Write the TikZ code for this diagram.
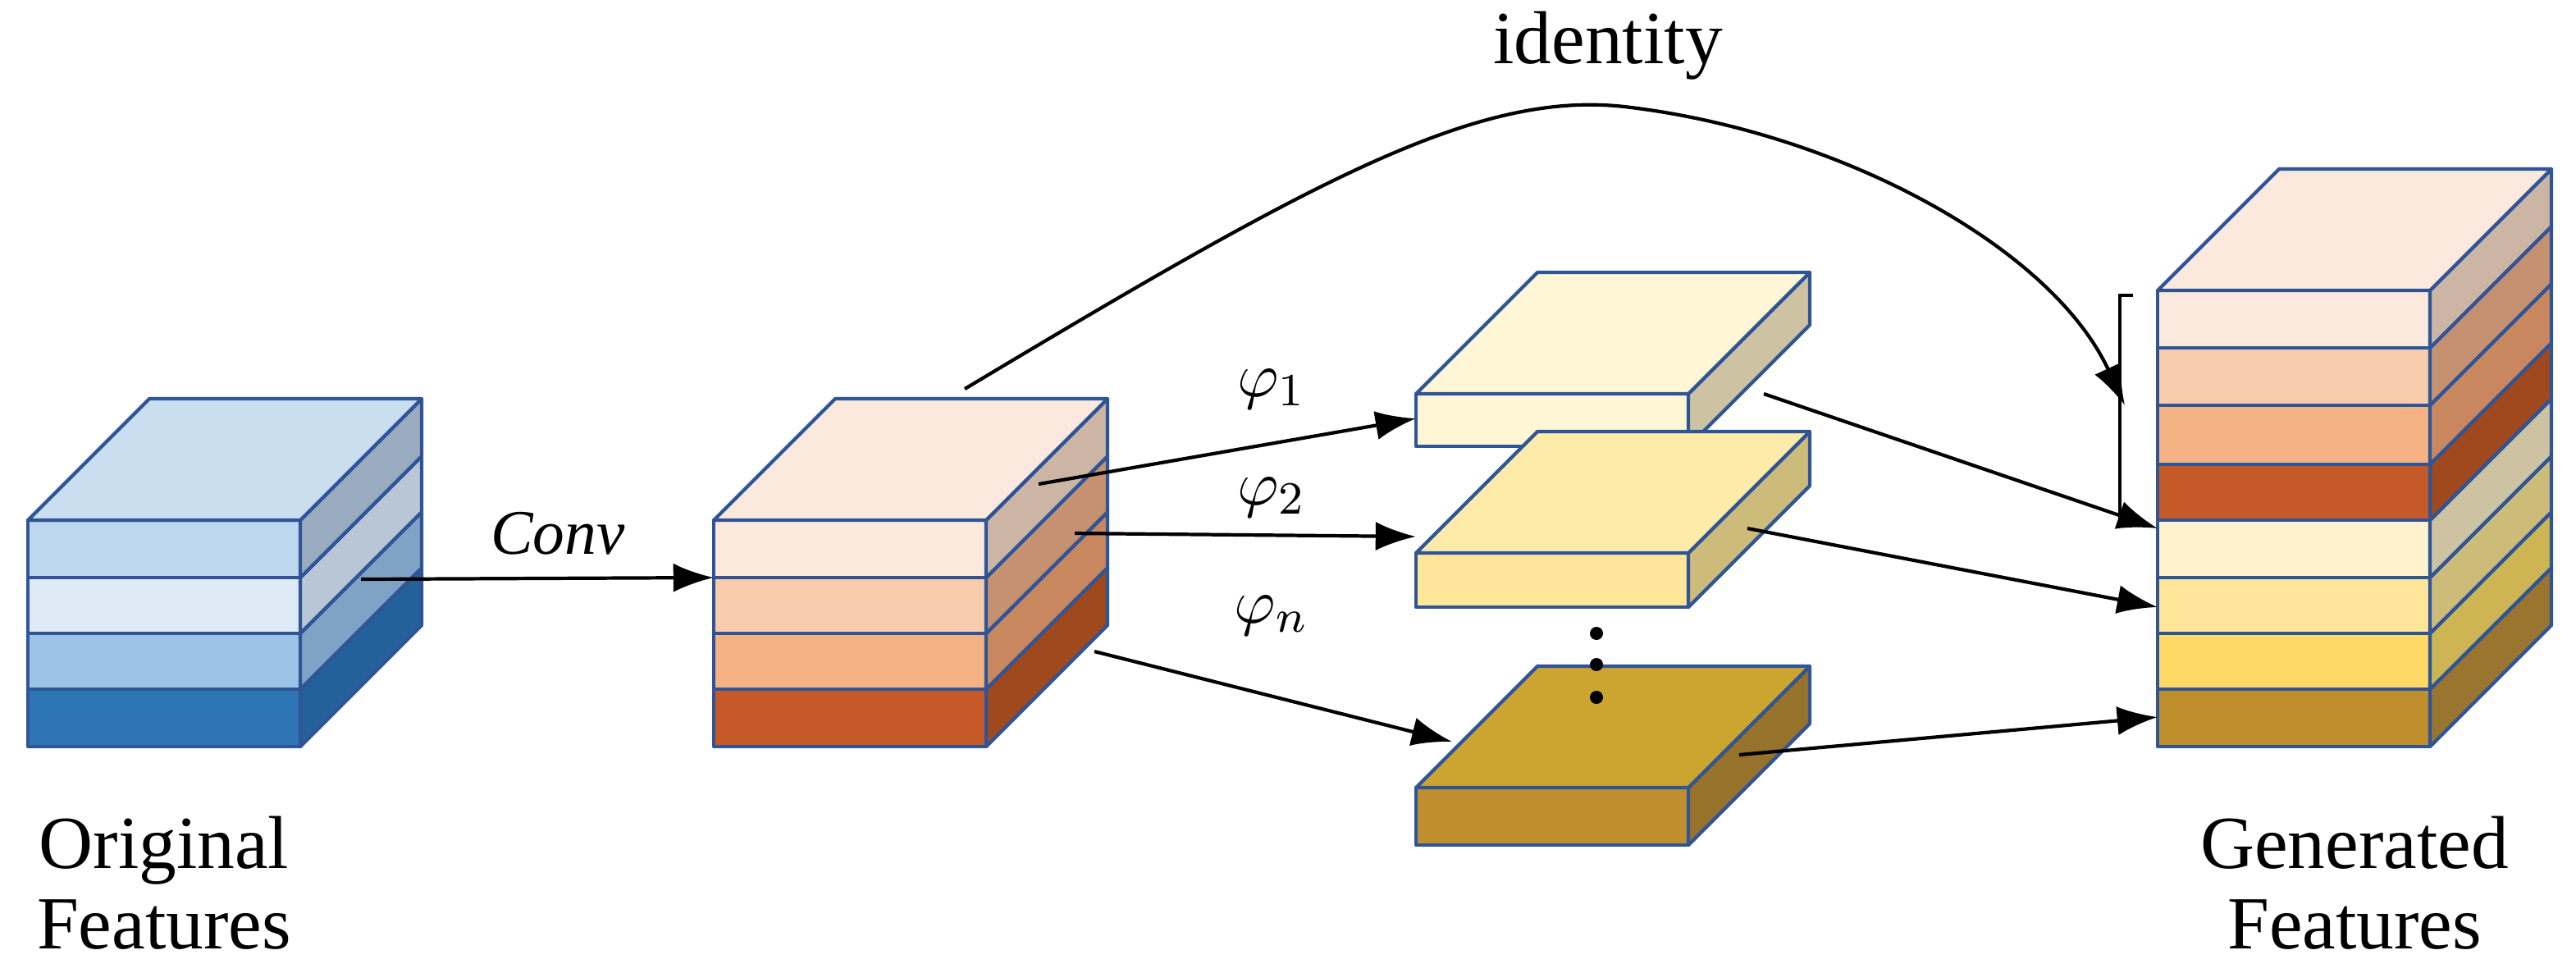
\documentclass[tikz,border=0pt]{standalone}
\usepackage{fontspec}
\setmainfont{Liberation Serif}
\usepackage{amsmath}
\usetikzlibrary{arrows.meta}
\definecolor{edge}{HTML}{2F5597}
\tikzset{
    face/.style={draw=edge,line width=0.6pt,line join=round},
    link/.style={-{Latex[length=7pt,width=5pt]},line width=0.6pt},
    caption/.style={font=\fontsize{13}{14}\selectfont,align=center,inner sep=1pt},
    mapname/.style={font=\fontsize{11}{13}\selectfont},
}
% one layer: x, y top, y bottom, front colour, side colour (hex)
\newcommand{\stacklayer}[5]{%
  \definecolor{frontc}{HTML}{#4}\definecolor{sidec}{HTML}{#5}%
  \fill[frontc] (#1,#2) rectangle (#1+166,#3);
  \draw[face,fill=sidec] (#1+166,#2) -- (#1+240,#2-74) -- (#1+240,#3-74) -- (#1+166,#3) -- cycle;
  \draw[face] (#1,#2) rectangle (#1+166,#3);
}
% top face: x, y top, colour (hex)
\newcommand{\stacktop}[3]{%
  \definecolor{topc}{HTML}{#3}%
  \draw[face,fill=topc] (#1,#2) -- (#1+74,#2-74) -- (#1+240,#2-74) -- (#1+166,#2) -- cycle;
}
\begin{document}
\begin{tikzpicture}[x=0.01cm,y=-0.01cm]
\useasboundingbox (0,0) rectangle (1570,587);
% original features
\stacklayer{17}{420}{455}{2E75B6}{24609A}
\stacklayer{17}{386}{420}{9DC3E6}{7FA3C4}
\stacklayer{17}{352}{386}{DEEBF7}{B8C6D6}
\stacklayer{17}{317}{352}{BDD7EE}{9AABBF}
\stacktop{17}{317}{C9DFF0}
% convolved features
\stacklayer{435}{420}{455}{C55A28}{A0481E}
\stacklayer{435}{386}{420}{F4B183}{C8875F}
\stacklayer{435}{352}{386}{F8CBAD}{C69170}
\stacklayer{435}{317}{352}{FBE9DE}{CDB5A6}
\stacktop{435}{317}{FBE9DE}
% transformed slabs
\stacklayer{863}{240}{272}{FFF6D5}{CDC3A2}
\stacktop{863}{240}{FFF6D5}
\stacklayer{863}{337}{370}{FFE699}{CDBB7A}
\stacktop{863}{337}{FDEBAA}
\stacklayer{863}{480}{515}{BF8F2E}{96722A}
\stacktop{863}{480}{CCA530}
\foreach \y in {386,405,425} \fill (973,\y) circle (4);
% generated features
\stacklayer{1315}{420}{455}{BF8F2E}{9A7530}
\stacklayer{1315}{386}{420}{FFD966}{CDB553}
\stacklayer{1315}{352}{386}{FFE699}{CDBB7A}
\stacklayer{1315}{317}{352}{FFF2CC}{CDC3A2}
\stacklayer{1315}{283}{317}{C55A28}{A0481E}
\stacklayer{1315}{247}{283}{F4B183}{C8875F}
\stacklayer{1315}{212}{247}{F8CBAD}{C69170}
\stacklayer{1315}{177}{212}{FBE9DE}{CDB5A6}
\stacktop{1315}{177}{FBE9DE}
\draw[line width=0.6pt] (1300,180) -- (1292,180) -- (1292,318) -- (1300,318);
% arrow end points
\coordinate (o1) at (220,353);  \coordinate (c1) at (435,352);
\coordinate (c2) at (633,295);  \coordinate (s1) at (863,255);
\coordinate (c3) at (655,325);  \coordinate (s2) at (863,327);
\coordinate (c4) at (667,397);  \coordinate (sn) at (885,452);
\coordinate (t1) at (1075,240); \coordinate (g1) at (1315,322);
\coordinate (t2) at (1065,322); \coordinate (g2) at (1315,370);
\coordinate (tn) at (1060,460); \coordinate (gn) at (1315,437);
\coordinate (c5) at (588,237);  \coordinate (gb) at (1295,247);
\draw[link] (o1) -- (c1);
\draw[link] (c2) -- (s1);
\draw[link] (c3) -- (s2);
\draw[link] (c4) -- (sn);
\draw[link] (t1) -- (g1);
\draw[link] (t2) -- (g2);
\draw[link] (tn) -- (gn);
\draw[link] (c5) .. controls (800,110) and (900,55) .. (990,65) .. controls (1120,80) and (1250,150) .. (gb);
\node[mapname] (conv) at (340,325) {$\mathit{Conv}$};
\node[mapname] (phi1) at (775,237) {$\varphi_1$};
\node[mapname] (phi2) at (775,303) {$\varphi_2$};
\node[mapname] (phin) at (775,375) {$\varphi_n$};
\node[caption] (ident) at (980,28) {identity};
\node[caption] (orig) at (100,538) {Original\\Features};
\node[caption] (gen) at (1435,538) {Generated\\Features};
\end{tikzpicture}
\end{document}
